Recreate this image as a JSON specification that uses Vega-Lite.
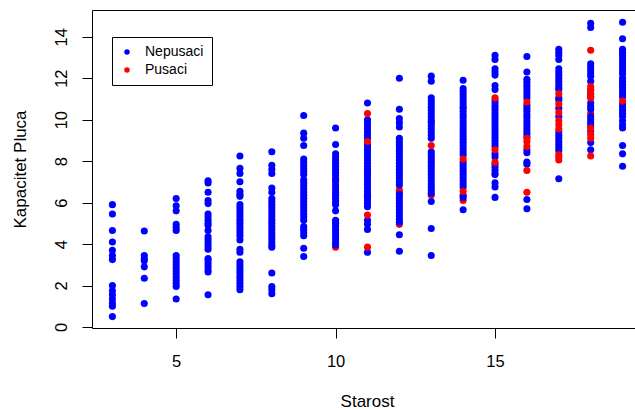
{
"$schema": "https://vega.github.io/schema/vega-lite/v6.json",
"width": 543, "height": 318,
"autosize": {"type": "none"},
"padding": {"left": 92, "top": 10, "right": 0, "bottom": 82},
"background": "white",
"data": {"values": [
{"Starost":10,"Kapacitet":6.95,"Grupa":"Pusaci"},
{"Starost":10,"Kapacitet":3.85,"Grupa":"Pusaci"},
{"Starost":11,"Kapacitet":7.5,"Grupa":"Pusaci"},
{"Starost":11,"Kapacitet":6.3,"Grupa":"Pusaci"},
{"Starost":12,"Kapacitet":6.6,"Grupa":"Pusaci"},
{"Starost":12,"Kapacitet":6.5,"Grupa":"Pusaci"},
{"Starost":12,"Kapacitet":4.95,"Grupa":"Pusaci"},
{"Starost":13,"Kapacitet":9.9,"Grupa":"Pusaci"},
{"Starost":13,"Kapacitet":8.05,"Grupa":"Pusaci"},
{"Starost":13,"Kapacitet":6.35,"Grupa":"Pusaci"},
{"Starost":14,"Kapacitet":10.55,"Grupa":"Pusaci"},
{"Starost":14,"Kapacitet":6.1,"Grupa":"Pusaci"},
{"Starost":15,"Kapacitet":7.4,"Grupa":"Pusaci"},
{"Starost":18,"Kapacitet":10.3,"Grupa":"Pusaci"},
{"Starost":3,"Kapacitet":5.9,"Grupa":"Nepusaci"},
{"Starost":3,"Kapacitet":5.45,"Grupa":"Nepusaci"},
{"Starost":3,"Kapacitet":4.65,"Grupa":"Nepusaci"},
{"Starost":3,"Kapacitet":4.1,"Grupa":"Nepusaci"},
{"Starost":3,"Kapacitet":3.7,"Grupa":"Nepusaci"},
{"Starost":3,"Kapacitet":3.45,"Grupa":"Nepusaci"},
{"Starost":3,"Kapacitet":3.25,"Grupa":"Nepusaci"},
{"Starost":3,"Kapacitet":2.0,"Grupa":"Nepusaci"},
{"Starost":3,"Kapacitet":1.75,"Grupa":"Nepusaci"},
{"Starost":3,"Kapacitet":1.55,"Grupa":"Nepusaci"},
{"Starost":3,"Kapacitet":1.35,"Grupa":"Nepusaci"},
{"Starost":3,"Kapacitet":1.15,"Grupa":"Nepusaci"},
{"Starost":3,"Kapacitet":1.0,"Grupa":"Nepusaci"},
{"Starost":3,"Kapacitet":0.5,"Grupa":"Nepusaci"},
{"Starost":4,"Kapacitet":4.63,"Grupa":"Nepusaci"},
{"Starost":4,"Kapacitet":3.45,"Grupa":"Nepusaci"},
{"Starost":4,"Kapacitet":3.3,"Grupa":"Nepusaci"},
{"Starost":4,"Kapacitet":3.2,"Grupa":"Nepusaci"},
{"Starost":4,"Kapacitet":2.9,"Grupa":"Nepusaci"},
{"Starost":4,"Kapacitet":2.35,"Grupa":"Nepusaci"},
{"Starost":4,"Kapacitet":1.13,"Grupa":"Nepusaci"},
{"Starost":5,"Kapacitet":6.2,"Grupa":"Nepusaci"},
{"Starost":5,"Kapacitet":5.85,"Grupa":"Nepusaci"},
{"Starost":5,"Kapacitet":5.6,"Grupa":"Nepusaci"},
{"Starost":5,"Kapacitet":4.95,"Grupa":"Nepusaci"},
{"Starost":5,"Kapacitet":4.8,"Grupa":"Nepusaci"},
{"Starost":5,"Kapacitet":4.65,"Grupa":"Nepusaci"},
{"Starost":5,"Kapacitet":3.45,"Grupa":"Nepusaci"},
{"Starost":5,"Kapacitet":3.3,"Grupa":"Nepusaci"},
{"Starost":5,"Kapacitet":3.15,"Grupa":"Nepusaci"},
{"Starost":5,"Kapacitet":3.0,"Grupa":"Nepusaci"},
{"Starost":5,"Kapacitet":2.85,"Grupa":"Nepusaci"},
{"Starost":5,"Kapacitet":2.7,"Grupa":"Nepusaci"},
{"Starost":5,"Kapacitet":2.55,"Grupa":"Nepusaci"},
{"Starost":5,"Kapacitet":2.4,"Grupa":"Nepusaci"},
{"Starost":5,"Kapacitet":2.25,"Grupa":"Nepusaci"},
{"Starost":5,"Kapacitet":2.1,"Grupa":"Nepusaci"},
{"Starost":5,"Kapacitet":1.95,"Grupa":"Nepusaci"},
{"Starost":5,"Kapacitet":1.35,"Grupa":"Nepusaci"},
{"Starost":6,"Kapacitet":7.05,"Grupa":"Nepusaci"},
{"Starost":6,"Kapacitet":6.95,"Grupa":"Nepusaci"},
{"Starost":6,"Kapacitet":6.5,"Grupa":"Nepusaci"},
{"Starost":6,"Kapacitet":6.1,"Grupa":"Nepusaci"},
{"Starost":6,"Kapacitet":5.95,"Grupa":"Nepusaci"},
{"Starost":6,"Kapacitet":5.45,"Grupa":"Nepusaci"},
{"Starost":6,"Kapacitet":5.3,"Grupa":"Nepusaci"},
{"Starost":6,"Kapacitet":5.15,"Grupa":"Nepusaci"},
{"Starost":6,"Kapacitet":5.0,"Grupa":"Nepusaci"},
{"Starost":6,"Kapacitet":4.9,"Grupa":"Nepusaci"},
{"Starost":6,"Kapacitet":4.65,"Grupa":"Nepusaci"},
{"Starost":6,"Kapacitet":4.35,"Grupa":"Nepusaci"},
{"Starost":6,"Kapacitet":4.2,"Grupa":"Nepusaci"},
{"Starost":6,"Kapacitet":4.05,"Grupa":"Nepusaci"},
{"Starost":6,"Kapacitet":3.9,"Grupa":"Nepusaci"},
{"Starost":6,"Kapacitet":3.75,"Grupa":"Nepusaci"},
{"Starost":6,"Kapacitet":3.3,"Grupa":"Nepusaci"},
{"Starost":6,"Kapacitet":3.2,"Grupa":"Nepusaci"},
{"Starost":6,"Kapacitet":3.05,"Grupa":"Nepusaci"},
{"Starost":6,"Kapacitet":2.9,"Grupa":"Nepusaci"},
{"Starost":6,"Kapacitet":2.75,"Grupa":"Nepusaci"},
{"Starost":6,"Kapacitet":2.65,"Grupa":"Nepusaci"},
{"Starost":6,"Kapacitet":1.55,"Grupa":"Nepusaci"},
{"Starost":7,"Kapacitet":8.25,"Grupa":"Nepusaci"},
{"Starost":7,"Kapacitet":7.65,"Grupa":"Nepusaci"},
{"Starost":7,"Kapacitet":7.4,"Grupa":"Nepusaci"},
{"Starost":7,"Kapacitet":7.0,"Grupa":"Nepusaci"},
{"Starost":7,"Kapacitet":6.55,"Grupa":"Nepusaci"},
{"Starost":7,"Kapacitet":6.4,"Grupa":"Nepusaci"},
{"Starost":7,"Kapacitet":6.3,"Grupa":"Nepusaci"},
{"Starost":7,"Kapacitet":5.9,"Grupa":"Nepusaci"},
{"Starost":7,"Kapacitet":5.75,"Grupa":"Nepusaci"},
{"Starost":7,"Kapacitet":5.6,"Grupa":"Nepusaci"},
{"Starost":7,"Kapacitet":5.45,"Grupa":"Nepusaci"},
{"Starost":7,"Kapacitet":5.3,"Grupa":"Nepusaci"},
{"Starost":7,"Kapacitet":5.15,"Grupa":"Nepusaci"},
{"Starost":7,"Kapacitet":5.0,"Grupa":"Nepusaci"},
{"Starost":7,"Kapacitet":4.85,"Grupa":"Nepusaci"},
{"Starost":7,"Kapacitet":4.7,"Grupa":"Nepusaci"},
{"Starost":7,"Kapacitet":4.55,"Grupa":"Nepusaci"},
{"Starost":7,"Kapacitet":4.4,"Grupa":"Nepusaci"},
{"Starost":7,"Kapacitet":4.2,"Grupa":"Nepusaci"},
{"Starost":7,"Kapacitet":3.75,"Grupa":"Nepusaci"},
{"Starost":7,"Kapacitet":3.6,"Grupa":"Nepusaci"},
{"Starost":7,"Kapacitet":3.15,"Grupa":"Nepusaci"},
{"Starost":7,"Kapacitet":3.0,"Grupa":"Nepusaci"},
{"Starost":7,"Kapacitet":2.85,"Grupa":"Nepusaci"},
{"Starost":7,"Kapacitet":2.7,"Grupa":"Nepusaci"},
{"Starost":7,"Kapacitet":2.55,"Grupa":"Nepusaci"},
{"Starost":7,"Kapacitet":2.4,"Grupa":"Nepusaci"},
{"Starost":7,"Kapacitet":2.25,"Grupa":"Nepusaci"},
{"Starost":7,"Kapacitet":2.1,"Grupa":"Nepusaci"},
{"Starost":7,"Kapacitet":1.95,"Grupa":"Nepusaci"},
{"Starost":7,"Kapacitet":1.8,"Grupa":"Nepusaci"},
{"Starost":8,"Kapacitet":8.45,"Grupa":"Nepusaci"},
{"Starost":8,"Kapacitet":7.8,"Grupa":"Nepusaci"},
{"Starost":8,"Kapacitet":7.6,"Grupa":"Nepusaci"},
{"Starost":8,"Kapacitet":7.4,"Grupa":"Nepusaci"},
{"Starost":8,"Kapacitet":6.7,"Grupa":"Nepusaci"},
{"Starost":8,"Kapacitet":6.5,"Grupa":"Nepusaci"},
{"Starost":8,"Kapacitet":6.2,"Grupa":"Nepusaci"},
{"Starost":8,"Kapacitet":6.05,"Grupa":"Nepusaci"},
{"Starost":8,"Kapacitet":5.9,"Grupa":"Nepusaci"},
{"Starost":8,"Kapacitet":5.75,"Grupa":"Nepusaci"},
{"Starost":8,"Kapacitet":5.6,"Grupa":"Nepusaci"},
{"Starost":8,"Kapacitet":5.45,"Grupa":"Nepusaci"},
{"Starost":8,"Kapacitet":5.3,"Grupa":"Nepusaci"},
{"Starost":8,"Kapacitet":5.15,"Grupa":"Nepusaci"},
{"Starost":8,"Kapacitet":5.0,"Grupa":"Nepusaci"},
{"Starost":8,"Kapacitet":4.85,"Grupa":"Nepusaci"},
{"Starost":8,"Kapacitet":4.7,"Grupa":"Nepusaci"},
{"Starost":8,"Kapacitet":4.55,"Grupa":"Nepusaci"},
{"Starost":8,"Kapacitet":4.4,"Grupa":"Nepusaci"},
{"Starost":8,"Kapacitet":4.25,"Grupa":"Nepusaci"},
{"Starost":8,"Kapacitet":4.1,"Grupa":"Nepusaci"},
{"Starost":8,"Kapacitet":3.95,"Grupa":"Nepusaci"},
{"Starost":8,"Kapacitet":3.85,"Grupa":"Nepusaci"},
{"Starost":8,"Kapacitet":2.6,"Grupa":"Nepusaci"},
{"Starost":8,"Kapacitet":1.95,"Grupa":"Nepusaci"},
{"Starost":8,"Kapacitet":1.8,"Grupa":"Nepusaci"},
{"Starost":8,"Kapacitet":1.6,"Grupa":"Nepusaci"},
{"Starost":9,"Kapacitet":10.2,"Grupa":"Nepusaci"},
{"Starost":9,"Kapacitet":9.35,"Grupa":"Nepusaci"},
{"Starost":9,"Kapacitet":9.1,"Grupa":"Nepusaci"},
{"Starost":9,"Kapacitet":8.75,"Grupa":"Nepusaci"},
{"Starost":9,"Kapacitet":8.1,"Grupa":"Nepusaci"},
{"Starost":9,"Kapacitet":7.95,"Grupa":"Nepusaci"},
{"Starost":9,"Kapacitet":7.8,"Grupa":"Nepusaci"},
{"Starost":9,"Kapacitet":7.65,"Grupa":"Nepusaci"},
{"Starost":9,"Kapacitet":7.5,"Grupa":"Nepusaci"},
{"Starost":9,"Kapacitet":7.35,"Grupa":"Nepusaci"},
{"Starost":9,"Kapacitet":7.1,"Grupa":"Nepusaci"},
{"Starost":9,"Kapacitet":6.95,"Grupa":"Nepusaci"},
{"Starost":9,"Kapacitet":6.8,"Grupa":"Nepusaci"},
{"Starost":9,"Kapacitet":6.65,"Grupa":"Nepusaci"},
{"Starost":9,"Kapacitet":6.5,"Grupa":"Nepusaci"},
{"Starost":9,"Kapacitet":6.35,"Grupa":"Nepusaci"},
{"Starost":9,"Kapacitet":6.2,"Grupa":"Nepusaci"},
{"Starost":9,"Kapacitet":6.05,"Grupa":"Nepusaci"},
{"Starost":9,"Kapacitet":5.9,"Grupa":"Nepusaci"},
{"Starost":9,"Kapacitet":5.75,"Grupa":"Nepusaci"},
{"Starost":9,"Kapacitet":5.6,"Grupa":"Nepusaci"},
{"Starost":9,"Kapacitet":5.45,"Grupa":"Nepusaci"},
{"Starost":9,"Kapacitet":5.3,"Grupa":"Nepusaci"},
{"Starost":9,"Kapacitet":5.15,"Grupa":"Nepusaci"},
{"Starost":9,"Kapacitet":4.85,"Grupa":"Nepusaci"},
{"Starost":9,"Kapacitet":4.7,"Grupa":"Nepusaci"},
{"Starost":9,"Kapacitet":4.55,"Grupa":"Nepusaci"},
{"Starost":9,"Kapacitet":4.4,"Grupa":"Nepusaci"},
{"Starost":9,"Kapacitet":3.8,"Grupa":"Nepusaci"},
{"Starost":9,"Kapacitet":3.4,"Grupa":"Nepusaci"},
{"Starost":10,"Kapacitet":9.6,"Grupa":"Nepusaci"},
{"Starost":10,"Kapacitet":8.8,"Grupa":"Nepusaci"},
{"Starost":10,"Kapacitet":8.35,"Grupa":"Nepusaci"},
{"Starost":10,"Kapacitet":8.2,"Grupa":"Nepusaci"},
{"Starost":10,"Kapacitet":8.05,"Grupa":"Nepusaci"},
{"Starost":10,"Kapacitet":7.9,"Grupa":"Nepusaci"},
{"Starost":10,"Kapacitet":7.75,"Grupa":"Nepusaci"},
{"Starost":10,"Kapacitet":7.6,"Grupa":"Nepusaci"},
{"Starost":10,"Kapacitet":7.45,"Grupa":"Nepusaci"},
{"Starost":10,"Kapacitet":7.3,"Grupa":"Nepusaci"},
{"Starost":10,"Kapacitet":7.15,"Grupa":"Nepusaci"},
{"Starost":10,"Kapacitet":7.05,"Grupa":"Nepusaci"},
{"Starost":10,"Kapacitet":6.8,"Grupa":"Nepusaci"},
{"Starost":10,"Kapacitet":6.65,"Grupa":"Nepusaci"},
{"Starost":10,"Kapacitet":6.5,"Grupa":"Nepusaci"},
{"Starost":10,"Kapacitet":6.35,"Grupa":"Nepusaci"},
{"Starost":10,"Kapacitet":6.2,"Grupa":"Nepusaci"},
{"Starost":10,"Kapacitet":6.05,"Grupa":"Nepusaci"},
{"Starost":10,"Kapacitet":5.9,"Grupa":"Nepusaci"},
{"Starost":10,"Kapacitet":5.6,"Grupa":"Nepusaci"},
{"Starost":10,"Kapacitet":5.15,"Grupa":"Nepusaci"},
{"Starost":10,"Kapacitet":5.0,"Grupa":"Nepusaci"},
{"Starost":10,"Kapacitet":4.85,"Grupa":"Nepusaci"},
{"Starost":10,"Kapacitet":4.7,"Grupa":"Nepusaci"},
{"Starost":10,"Kapacitet":4.55,"Grupa":"Nepusaci"},
{"Starost":10,"Kapacitet":4.4,"Grupa":"Nepusaci"},
{"Starost":10,"Kapacitet":4.25,"Grupa":"Nepusaci"},
{"Starost":10,"Kapacitet":4.1,"Grupa":"Nepusaci"},
{"Starost":10,"Kapacitet":3.95,"Grupa":"Nepusaci"},
{"Starost":11,"Kapacitet":10.8,"Grupa":"Nepusaci"},
{"Starost":11,"Kapacitet":10.0,"Grupa":"Nepusaci"},
{"Starost":11,"Kapacitet":9.85,"Grupa":"Nepusaci"},
{"Starost":11,"Kapacitet":9.7,"Grupa":"Nepusaci"},
{"Starost":11,"Kapacitet":9.55,"Grupa":"Nepusaci"},
{"Starost":11,"Kapacitet":9.4,"Grupa":"Nepusaci"},
{"Starost":11,"Kapacitet":9.25,"Grupa":"Nepusaci"},
{"Starost":11,"Kapacitet":9.1,"Grupa":"Nepusaci"},
{"Starost":11,"Kapacitet":8.8,"Grupa":"Nepusaci"},
{"Starost":11,"Kapacitet":8.65,"Grupa":"Nepusaci"},
{"Starost":11,"Kapacitet":8.5,"Grupa":"Nepusaci"},
{"Starost":11,"Kapacitet":8.35,"Grupa":"Nepusaci"},
{"Starost":11,"Kapacitet":8.2,"Grupa":"Nepusaci"},
{"Starost":11,"Kapacitet":8.05,"Grupa":"Nepusaci"},
{"Starost":11,"Kapacitet":7.9,"Grupa":"Nepusaci"},
{"Starost":11,"Kapacitet":7.75,"Grupa":"Nepusaci"},
{"Starost":11,"Kapacitet":7.6,"Grupa":"Nepusaci"},
{"Starost":11,"Kapacitet":7.45,"Grupa":"Nepusaci"},
{"Starost":11,"Kapacitet":7.3,"Grupa":"Nepusaci"},
{"Starost":11,"Kapacitet":7.15,"Grupa":"Nepusaci"},
{"Starost":11,"Kapacitet":7.0,"Grupa":"Nepusaci"},
{"Starost":11,"Kapacitet":6.85,"Grupa":"Nepusaci"},
{"Starost":11,"Kapacitet":6.7,"Grupa":"Nepusaci"},
{"Starost":11,"Kapacitet":6.55,"Grupa":"Nepusaci"},
{"Starost":11,"Kapacitet":6.4,"Grupa":"Nepusaci"},
{"Starost":11,"Kapacitet":6.25,"Grupa":"Nepusaci"},
{"Starost":11,"Kapacitet":6.1,"Grupa":"Nepusaci"},
{"Starost":11,"Kapacitet":5.95,"Grupa":"Nepusaci"},
{"Starost":11,"Kapacitet":5.8,"Grupa":"Nepusaci"},
{"Starost":11,"Kapacitet":5.15,"Grupa":"Nepusaci"},
{"Starost":11,"Kapacitet":4.95,"Grupa":"Nepusaci"},
{"Starost":11,"Kapacitet":4.7,"Grupa":"Nepusaci"},
{"Starost":11,"Kapacitet":3.6,"Grupa":"Nepusaci"},
{"Starost":12,"Kapacitet":12.0,"Grupa":"Nepusaci"},
{"Starost":12,"Kapacitet":10.5,"Grupa":"Nepusaci"},
{"Starost":12,"Kapacitet":10.05,"Grupa":"Nepusaci"},
{"Starost":12,"Kapacitet":9.85,"Grupa":"Nepusaci"},
{"Starost":12,"Kapacitet":9.65,"Grupa":"Nepusaci"},
{"Starost":12,"Kapacitet":9.1,"Grupa":"Nepusaci"},
{"Starost":12,"Kapacitet":8.95,"Grupa":"Nepusaci"},
{"Starost":12,"Kapacitet":8.8,"Grupa":"Nepusaci"},
{"Starost":12,"Kapacitet":8.65,"Grupa":"Nepusaci"},
{"Starost":12,"Kapacitet":8.5,"Grupa":"Nepusaci"},
{"Starost":12,"Kapacitet":8.35,"Grupa":"Nepusaci"},
{"Starost":12,"Kapacitet":8.2,"Grupa":"Nepusaci"},
{"Starost":12,"Kapacitet":8.05,"Grupa":"Nepusaci"},
{"Starost":12,"Kapacitet":7.9,"Grupa":"Nepusaci"},
{"Starost":12,"Kapacitet":7.75,"Grupa":"Nepusaci"},
{"Starost":12,"Kapacitet":7.6,"Grupa":"Nepusaci"},
{"Starost":12,"Kapacitet":7.45,"Grupa":"Nepusaci"},
{"Starost":12,"Kapacitet":7.3,"Grupa":"Nepusaci"},
{"Starost":12,"Kapacitet":7.15,"Grupa":"Nepusaci"},
{"Starost":12,"Kapacitet":7.0,"Grupa":"Nepusaci"},
{"Starost":12,"Kapacitet":6.85,"Grupa":"Nepusaci"},
{"Starost":12,"Kapacitet":6.4,"Grupa":"Nepusaci"},
{"Starost":12,"Kapacitet":6.25,"Grupa":"Nepusaci"},
{"Starost":12,"Kapacitet":6.1,"Grupa":"Nepusaci"},
{"Starost":12,"Kapacitet":5.95,"Grupa":"Nepusaci"},
{"Starost":12,"Kapacitet":5.8,"Grupa":"Nepusaci"},
{"Starost":12,"Kapacitet":5.65,"Grupa":"Nepusaci"},
{"Starost":12,"Kapacitet":5.5,"Grupa":"Nepusaci"},
{"Starost":12,"Kapacitet":5.35,"Grupa":"Nepusaci"},
{"Starost":12,"Kapacitet":5.2,"Grupa":"Nepusaci"},
{"Starost":12,"Kapacitet":5.05,"Grupa":"Nepusaci"},
{"Starost":12,"Kapacitet":4.45,"Grupa":"Nepusaci"},
{"Starost":12,"Kapacitet":3.65,"Grupa":"Nepusaci"},
{"Starost":13,"Kapacitet":12.1,"Grupa":"Nepusaci"},
{"Starost":13,"Kapacitet":11.85,"Grupa":"Nepusaci"},
{"Starost":13,"Kapacitet":11.05,"Grupa":"Nepusaci"},
{"Starost":13,"Kapacitet":10.9,"Grupa":"Nepusaci"},
{"Starost":13,"Kapacitet":10.75,"Grupa":"Nepusaci"},
{"Starost":13,"Kapacitet":10.6,"Grupa":"Nepusaci"},
{"Starost":13,"Kapacitet":10.45,"Grupa":"Nepusaci"},
{"Starost":13,"Kapacitet":10.3,"Grupa":"Nepusaci"},
{"Starost":13,"Kapacitet":10.15,"Grupa":"Nepusaci"},
{"Starost":13,"Kapacitet":10.0,"Grupa":"Nepusaci"},
{"Starost":13,"Kapacitet":9.85,"Grupa":"Nepusaci"},
{"Starost":13,"Kapacitet":9.7,"Grupa":"Nepusaci"},
{"Starost":13,"Kapacitet":9.55,"Grupa":"Nepusaci"},
{"Starost":13,"Kapacitet":9.4,"Grupa":"Nepusaci"},
{"Starost":13,"Kapacitet":9.25,"Grupa":"Nepusaci"},
{"Starost":13,"Kapacitet":9.1,"Grupa":"Nepusaci"},
{"Starost":13,"Kapacitet":8.45,"Grupa":"Nepusaci"},
{"Starost":13,"Kapacitet":8.3,"Grupa":"Nepusaci"},
{"Starost":13,"Kapacitet":8.15,"Grupa":"Nepusaci"},
{"Starost":13,"Kapacitet":7.95,"Grupa":"Nepusaci"},
{"Starost":13,"Kapacitet":7.8,"Grupa":"Nepusaci"},
{"Starost":13,"Kapacitet":7.65,"Grupa":"Nepusaci"},
{"Starost":13,"Kapacitet":7.5,"Grupa":"Nepusaci"},
{"Starost":13,"Kapacitet":7.35,"Grupa":"Nepusaci"},
{"Starost":13,"Kapacitet":7.2,"Grupa":"Nepusaci"},
{"Starost":13,"Kapacitet":7.05,"Grupa":"Nepusaci"},
{"Starost":13,"Kapacitet":6.9,"Grupa":"Nepusaci"},
{"Starost":13,"Kapacitet":6.75,"Grupa":"Nepusaci"},
{"Starost":13,"Kapacitet":6.6,"Grupa":"Nepusaci"},
{"Starost":13,"Kapacitet":6.45,"Grupa":"Nepusaci"},
{"Starost":13,"Kapacitet":6.05,"Grupa":"Nepusaci"},
{"Starost":13,"Kapacitet":4.75,"Grupa":"Nepusaci"},
{"Starost":13,"Kapacitet":3.45,"Grupa":"Nepusaci"},
{"Starost":14,"Kapacitet":11.9,"Grupa":"Nepusaci"},
{"Starost":14,"Kapacitet":11.5,"Grupa":"Nepusaci"},
{"Starost":14,"Kapacitet":11.35,"Grupa":"Nepusaci"},
{"Starost":14,"Kapacitet":11.2,"Grupa":"Nepusaci"},
{"Starost":14,"Kapacitet":11.05,"Grupa":"Nepusaci"},
{"Starost":14,"Kapacitet":10.9,"Grupa":"Nepusaci"},
{"Starost":14,"Kapacitet":10.75,"Grupa":"Nepusaci"},
{"Starost":14,"Kapacitet":10.6,"Grupa":"Nepusaci"},
{"Starost":14,"Kapacitet":10.4,"Grupa":"Nepusaci"},
{"Starost":14,"Kapacitet":10.25,"Grupa":"Nepusaci"},
{"Starost":14,"Kapacitet":10.1,"Grupa":"Nepusaci"},
{"Starost":14,"Kapacitet":9.95,"Grupa":"Nepusaci"},
{"Starost":14,"Kapacitet":9.8,"Grupa":"Nepusaci"},
{"Starost":14,"Kapacitet":9.65,"Grupa":"Nepusaci"},
{"Starost":14,"Kapacitet":9.5,"Grupa":"Nepusaci"},
{"Starost":14,"Kapacitet":9.35,"Grupa":"Nepusaci"},
{"Starost":14,"Kapacitet":9.2,"Grupa":"Nepusaci"},
{"Starost":14,"Kapacitet":9.05,"Grupa":"Nepusaci"},
{"Starost":14,"Kapacitet":8.9,"Grupa":"Nepusaci"},
{"Starost":14,"Kapacitet":8.75,"Grupa":"Nepusaci"},
{"Starost":14,"Kapacitet":8.6,"Grupa":"Nepusaci"},
{"Starost":14,"Kapacitet":8.45,"Grupa":"Nepusaci"},
{"Starost":14,"Kapacitet":8.3,"Grupa":"Nepusaci"},
{"Starost":14,"Kapacitet":7.95,"Grupa":"Nepusaci"},
{"Starost":14,"Kapacitet":7.8,"Grupa":"Nepusaci"},
{"Starost":14,"Kapacitet":7.65,"Grupa":"Nepusaci"},
{"Starost":14,"Kapacitet":7.5,"Grupa":"Nepusaci"},
{"Starost":14,"Kapacitet":7.35,"Grupa":"Nepusaci"},
{"Starost":14,"Kapacitet":7.2,"Grupa":"Nepusaci"},
{"Starost":14,"Kapacitet":7.05,"Grupa":"Nepusaci"},
{"Starost":14,"Kapacitet":6.9,"Grupa":"Nepusaci"},
{"Starost":14,"Kapacitet":6.75,"Grupa":"Nepusaci"},
{"Starost":14,"Kapacitet":6.35,"Grupa":"Nepusaci"},
{"Starost":14,"Kapacitet":6.25,"Grupa":"Nepusaci"},
{"Starost":14,"Kapacitet":5.65,"Grupa":"Nepusaci"},
{"Starost":15,"Kapacitet":13.1,"Grupa":"Nepusaci"},
{"Starost":15,"Kapacitet":12.9,"Grupa":"Nepusaci"},
{"Starost":15,"Kapacitet":12.45,"Grupa":"Nepusaci"},
{"Starost":15,"Kapacitet":12.3,"Grupa":"Nepusaci"},
{"Starost":15,"Kapacitet":12.15,"Grupa":"Nepusaci"},
{"Starost":15,"Kapacitet":11.65,"Grupa":"Nepusaci"},
{"Starost":15,"Kapacitet":11.45,"Grupa":"Nepusaci"},
{"Starost":15,"Kapacitet":10.95,"Grupa":"Nepusaci"},
{"Starost":15,"Kapacitet":10.8,"Grupa":"Nepusaci"},
{"Starost":15,"Kapacitet":10.65,"Grupa":"Nepusaci"},
{"Starost":15,"Kapacitet":10.5,"Grupa":"Nepusaci"},
{"Starost":15,"Kapacitet":10.35,"Grupa":"Nepusaci"},
{"Starost":15,"Kapacitet":10.2,"Grupa":"Nepusaci"},
{"Starost":15,"Kapacitet":10.05,"Grupa":"Nepusaci"},
{"Starost":15,"Kapacitet":9.9,"Grupa":"Nepusaci"},
{"Starost":15,"Kapacitet":9.75,"Grupa":"Nepusaci"},
{"Starost":15,"Kapacitet":9.6,"Grupa":"Nepusaci"},
{"Starost":15,"Kapacitet":9.45,"Grupa":"Nepusaci"},
{"Starost":15,"Kapacitet":9.3,"Grupa":"Nepusaci"},
{"Starost":15,"Kapacitet":9.15,"Grupa":"Nepusaci"},
{"Starost":15,"Kapacitet":9.0,"Grupa":"Nepusaci"},
{"Starost":15,"Kapacitet":8.85,"Grupa":"Nepusaci"},
{"Starost":15,"Kapacitet":8.7,"Grupa":"Nepusaci"},
{"Starost":15,"Kapacitet":8.35,"Grupa":"Nepusaci"},
{"Starost":15,"Kapacitet":8.2,"Grupa":"Nepusaci"},
{"Starost":15,"Kapacitet":7.85,"Grupa":"Nepusaci"},
{"Starost":15,"Kapacitet":7.7,"Grupa":"Nepusaci"},
{"Starost":15,"Kapacitet":7.55,"Grupa":"Nepusaci"},
{"Starost":15,"Kapacitet":7.35,"Grupa":"Nepusaci"},
{"Starost":15,"Kapacitet":6.95,"Grupa":"Nepusaci"},
{"Starost":15,"Kapacitet":6.75,"Grupa":"Nepusaci"},
{"Starost":15,"Kapacitet":6.25,"Grupa":"Nepusaci"},
{"Starost":16,"Kapacitet":13.05,"Grupa":"Nepusaci"},
{"Starost":16,"Kapacitet":12.3,"Grupa":"Nepusaci"},
{"Starost":16,"Kapacitet":11.95,"Grupa":"Nepusaci"},
{"Starost":16,"Kapacitet":11.8,"Grupa":"Nepusaci"},
{"Starost":16,"Kapacitet":11.65,"Grupa":"Nepusaci"},
{"Starost":16,"Kapacitet":11.5,"Grupa":"Nepusaci"},
{"Starost":16,"Kapacitet":11.35,"Grupa":"Nepusaci"},
{"Starost":16,"Kapacitet":11.2,"Grupa":"Nepusaci"},
{"Starost":16,"Kapacitet":11.05,"Grupa":"Nepusaci"},
{"Starost":16,"Kapacitet":10.7,"Grupa":"Nepusaci"},
{"Starost":16,"Kapacitet":10.55,"Grupa":"Nepusaci"},
{"Starost":16,"Kapacitet":10.4,"Grupa":"Nepusaci"},
{"Starost":16,"Kapacitet":10.25,"Grupa":"Nepusaci"},
{"Starost":16,"Kapacitet":10.1,"Grupa":"Nepusaci"},
{"Starost":16,"Kapacitet":9.95,"Grupa":"Nepusaci"},
{"Starost":16,"Kapacitet":9.8,"Grupa":"Nepusaci"},
{"Starost":16,"Kapacitet":9.65,"Grupa":"Nepusaci"},
{"Starost":16,"Kapacitet":9.5,"Grupa":"Nepusaci"},
{"Starost":16,"Kapacitet":9.35,"Grupa":"Nepusaci"},
{"Starost":16,"Kapacitet":9.2,"Grupa":"Nepusaci"},
{"Starost":16,"Kapacitet":8.55,"Grupa":"Nepusaci"},
{"Starost":16,"Kapacitet":8.4,"Grupa":"Nepusaci"},
{"Starost":16,"Kapacitet":7.95,"Grupa":"Nepusaci"},
{"Starost":16,"Kapacitet":7.85,"Grupa":"Nepusaci"},
{"Starost":16,"Kapacitet":6.15,"Grupa":"Nepusaci"},
{"Starost":16,"Kapacitet":5.7,"Grupa":"Nepusaci"},
{"Starost":17,"Kapacitet":13.4,"Grupa":"Nepusaci"},
{"Starost":17,"Kapacitet":13.25,"Grupa":"Nepusaci"},
{"Starost":17,"Kapacitet":13.1,"Grupa":"Nepusaci"},
{"Starost":17,"Kapacitet":12.9,"Grupa":"Nepusaci"},
{"Starost":17,"Kapacitet":12.45,"Grupa":"Nepusaci"},
{"Starost":17,"Kapacitet":12.3,"Grupa":"Nepusaci"},
{"Starost":17,"Kapacitet":12.15,"Grupa":"Nepusaci"},
{"Starost":17,"Kapacitet":12.0,"Grupa":"Nepusaci"},
{"Starost":17,"Kapacitet":11.85,"Grupa":"Nepusaci"},
{"Starost":17,"Kapacitet":11.7,"Grupa":"Nepusaci"},
{"Starost":17,"Kapacitet":11.55,"Grupa":"Nepusaci"},
{"Starost":17,"Kapacitet":11.45,"Grupa":"Nepusaci"},
{"Starost":17,"Kapacitet":11.05,"Grupa":"Nepusaci"},
{"Starost":17,"Kapacitet":10.95,"Grupa":"Nepusaci"},
{"Starost":17,"Kapacitet":10.55,"Grupa":"Nepusaci"},
{"Starost":17,"Kapacitet":10.15,"Grupa":"Nepusaci"},
{"Starost":17,"Kapacitet":9.4,"Grupa":"Nepusaci"},
{"Starost":17,"Kapacitet":9.25,"Grupa":"Nepusaci"},
{"Starost":17,"Kapacitet":9.1,"Grupa":"Nepusaci"},
{"Starost":17,"Kapacitet":8.95,"Grupa":"Nepusaci"},
{"Starost":17,"Kapacitet":8.8,"Grupa":"Nepusaci"},
{"Starost":17,"Kapacitet":8.65,"Grupa":"Nepusaci"},
{"Starost":17,"Kapacitet":8.5,"Grupa":"Nepusaci"},
{"Starost":17,"Kapacitet":7.15,"Grupa":"Nepusaci"},
{"Starost":18,"Kapacitet":14.65,"Grupa":"Nepusaci"},
{"Starost":18,"Kapacitet":14.45,"Grupa":"Nepusaci"},
{"Starost":18,"Kapacitet":12.7,"Grupa":"Nepusaci"},
{"Starost":18,"Kapacitet":12.55,"Grupa":"Nepusaci"},
{"Starost":18,"Kapacitet":12.4,"Grupa":"Nepusaci"},
{"Starost":18,"Kapacitet":12.25,"Grupa":"Nepusaci"},
{"Starost":18,"Kapacitet":12.1,"Grupa":"Nepusaci"},
{"Starost":18,"Kapacitet":11.85,"Grupa":"Nepusaci"},
{"Starost":18,"Kapacitet":11.4,"Grupa":"Nepusaci"},
{"Starost":18,"Kapacitet":11.25,"Grupa":"Nepusaci"},
{"Starost":18,"Kapacitet":11.1,"Grupa":"Nepusaci"},
{"Starost":18,"Kapacitet":10.8,"Grupa":"Nepusaci"},
{"Starost":18,"Kapacitet":10.65,"Grupa":"Nepusaci"},
{"Starost":18,"Kapacitet":10.5,"Grupa":"Nepusaci"},
{"Starost":18,"Kapacitet":10.15,"Grupa":"Nepusaci"},
{"Starost":18,"Kapacitet":10.0,"Grupa":"Nepusaci"},
{"Starost":18,"Kapacitet":9.85,"Grupa":"Nepusaci"},
{"Starost":18,"Kapacitet":9.7,"Grupa":"Nepusaci"},
{"Starost":18,"Kapacitet":9.45,"Grupa":"Nepusaci"},
{"Starost":18,"Kapacitet":8.9,"Grupa":"Nepusaci"},
{"Starost":18,"Kapacitet":8.55,"Grupa":"Nepusaci"},
{"Starost":19,"Kapacitet":14.7,"Grupa":"Nepusaci"},
{"Starost":19,"Kapacitet":13.9,"Grupa":"Nepusaci"},
{"Starost":19,"Kapacitet":13.4,"Grupa":"Nepusaci"},
{"Starost":19,"Kapacitet":13.25,"Grupa":"Nepusaci"},
{"Starost":19,"Kapacitet":13.1,"Grupa":"Nepusaci"},
{"Starost":19,"Kapacitet":12.95,"Grupa":"Nepusaci"},
{"Starost":19,"Kapacitet":12.8,"Grupa":"Nepusaci"},
{"Starost":19,"Kapacitet":12.65,"Grupa":"Nepusaci"},
{"Starost":19,"Kapacitet":12.5,"Grupa":"Nepusaci"},
{"Starost":19,"Kapacitet":12.35,"Grupa":"Nepusaci"},
{"Starost":19,"Kapacitet":12.2,"Grupa":"Nepusaci"},
{"Starost":19,"Kapacitet":12.0,"Grupa":"Nepusaci"},
{"Starost":19,"Kapacitet":11.85,"Grupa":"Nepusaci"},
{"Starost":19,"Kapacitet":11.7,"Grupa":"Nepusaci"},
{"Starost":19,"Kapacitet":11.55,"Grupa":"Nepusaci"},
{"Starost":19,"Kapacitet":11.4,"Grupa":"Nepusaci"},
{"Starost":19,"Kapacitet":11.25,"Grupa":"Nepusaci"},
{"Starost":19,"Kapacitet":11.1,"Grupa":"Nepusaci"},
{"Starost":19,"Kapacitet":10.75,"Grupa":"Nepusaci"},
{"Starost":19,"Kapacitet":10.6,"Grupa":"Nepusaci"},
{"Starost":19,"Kapacitet":10.45,"Grupa":"Nepusaci"},
{"Starost":19,"Kapacitet":10.3,"Grupa":"Nepusaci"},
{"Starost":19,"Kapacitet":10.15,"Grupa":"Nepusaci"},
{"Starost":19,"Kapacitet":9.95,"Grupa":"Nepusaci"},
{"Starost":19,"Kapacitet":9.75,"Grupa":"Nepusaci"},
{"Starost":19,"Kapacitet":9.6,"Grupa":"Nepusaci"},
{"Starost":19,"Kapacitet":8.75,"Grupa":"Nepusaci"},
{"Starost":19,"Kapacitet":8.35,"Grupa":"Nepusaci"},
{"Starost":19,"Kapacitet":7.75,"Grupa":"Nepusaci"},
{"Starost":11,"Kapacitet":10.3,"Grupa":"Pusaci"},
{"Starost":11,"Kapacitet":8.95,"Grupa":"Pusaci"},
{"Starost":11,"Kapacitet":5.4,"Grupa":"Pusaci"},
{"Starost":11,"Kapacitet":3.85,"Grupa":"Pusaci"},
{"Starost":13,"Kapacitet":8.75,"Grupa":"Pusaci"},
{"Starost":14,"Kapacitet":8.1,"Grupa":"Pusaci"},
{"Starost":14,"Kapacitet":6.55,"Grupa":"Pusaci"},
{"Starost":15,"Kapacitet":11.05,"Grupa":"Pusaci"},
{"Starost":15,"Kapacitet":8.55,"Grupa":"Pusaci"},
{"Starost":15,"Kapacitet":7.95,"Grupa":"Pusaci"},
{"Starost":16,"Kapacitet":10.85,"Grupa":"Pusaci"},
{"Starost":16,"Kapacitet":9.1,"Grupa":"Pusaci"},
{"Starost":16,"Kapacitet":8.95,"Grupa":"Pusaci"},
{"Starost":16,"Kapacitet":8.7,"Grupa":"Pusaci"},
{"Starost":16,"Kapacitet":7.55,"Grupa":"Pusaci"},
{"Starost":16,"Kapacitet":6.5,"Grupa":"Pusaci"},
{"Starost":17,"Kapacitet":11.25,"Grupa":"Pusaci"},
{"Starost":17,"Kapacitet":10.75,"Grupa":"Pusaci"},
{"Starost":17,"Kapacitet":10.35,"Grupa":"Pusaci"},
{"Starost":17,"Kapacitet":9.95,"Grupa":"Pusaci"},
{"Starost":17,"Kapacitet":9.75,"Grupa":"Pusaci"},
{"Starost":17,"Kapacitet":9.55,"Grupa":"Pusaci"},
{"Starost":17,"Kapacitet":8.3,"Grupa":"Pusaci"},
{"Starost":17,"Kapacitet":8.2,"Grupa":"Pusaci"},
{"Starost":17,"Kapacitet":8.05,"Grupa":"Pusaci"},
{"Starost":18,"Kapacitet":13.35,"Grupa":"Pusaci"},
{"Starost":18,"Kapacitet":11.6,"Grupa":"Pusaci"},
{"Starost":18,"Kapacitet":11.45,"Grupa":"Pusaci"},
{"Starost":18,"Kapacitet":11.25,"Grupa":"Pusaci"},
{"Starost":18,"Kapacitet":11.05,"Grupa":"Pusaci"},
{"Starost":18,"Kapacitet":9.6,"Grupa":"Pusaci"},
{"Starost":18,"Kapacitet":9.3,"Grupa":"Pusaci"},
{"Starost":18,"Kapacitet":9.1,"Grupa":"Pusaci"},
{"Starost":18,"Kapacitet":8.25,"Grupa":"Pusaci"},
{"Starost":19,"Kapacitet":10.9,"Grupa":"Pusaci"}
]},
"mark": {"type": "point", "filled": true, "size": 50, "opacity": 1},
"encoding": {
 "x": {"field": "Starost", "type": "quantitative",
  "scale": {"domain": [2.36, 19.39], "nice": false, "zero": false},
  "axis": {"title": "Starost", "values": [5, 10, 15], "labelBaseline": "alphabetic", "labelPadding": 28.5, "labelFlush": false,
           "titleX": 275, "titleY": 78, "titleBaseline": "alphabetic"}},
 "y": {"field": "Kapacitet", "type": "quantitative",
  "scale": {"domain": [-0.05, 15.29], "nice": false, "zero": false},
  "axis": {"title": "Kapacitet Pluca", "values": [0, 2, 4, 6, 8, 10, 12, 14], "labelAngle": 270, "labelAlign": "center", "labelBaseline": "alphabetic",
           "labelPadding": 15.5, "labelFlush": false, "labelOverlap": false,
           "titleX": -67, "titleY": 159, "titleAngle": 270, "titleBaseline": "alphabetic", "titleAlign": "center"}},
 "color": {"field": "Grupa", "type": "nominal",
  "scale": {"domain": ["Nepusaci", "Pusaci"], "range": ["#0000FF", "#FF0000"]},
  "legend": {"title": null, "orient": "none", "legendX": 20, "legendY": 27, "padding": 8,
             "strokeColor": "black", "fillColor": "white", "cornerRadius": 0,
             "symbolType": "circle", "symbolSize": 30, "symbolStrokeWidth": 0, "symbolOpacity": 1,
             "labelFont": "Liberation Sans", "labelFontSize": 14, "labelColor": "black", "labelOffset": 11, "rowPadding": 4}}
},
"config": {
 "view": {"stroke": "black", "strokeWidth": 1},
 "axis": {"grid": false, "domain": false, "ticks": true, "tickColor": "black", "tickSize": 10, "tickWidth": 1,
          "labelFont": "Liberation Sans", "labelFontSize": 16.5, "labelColor": "black",
          "titleFont": "Liberation Sans", "titleFontSize": 17, "titleFontWeight": "normal", "titleColor": "black"}
}
}
